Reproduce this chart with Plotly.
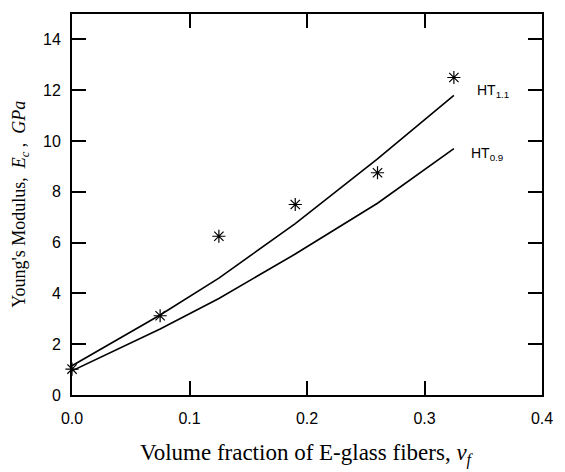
import plotly.graph_objects as go

vf = [0.0, 0.075, 0.125, 0.19, 0.26, 0.325]
E_exp = [1.02, 3.12, 6.25, 7.5, 8.75, 12.5]
HT_11 = [1.15, 3.15, 4.6, 6.75, 9.3, 11.8]
HT_09 = [0.95, 2.6, 3.8, 5.55, 7.55, 9.7]

x_ticks = [0.0, 0.1, 0.2, 0.3, 0.4]
y_ticks = [0, 2, 4, 6, 8, 10, 12, 14]

fig = go.Figure()
fig.add_trace(go.Scatter(x=vf, y=HT_11, mode="lines", line=dict(color="black", width=1.6),
                         showlegend=False, cliponaxis=False))
fig.add_trace(go.Scatter(x=vf, y=HT_09, mode="lines", line=dict(color="black", width=1.6),
                         showlegend=False, cliponaxis=False))
fig.add_trace(go.Scatter(x=vf, y=E_exp, mode="markers",
                         marker=dict(symbol="asterisk-open", size=11, color="black",
                                     line=dict(color="black", width=1.2)),
                         showlegend=False, cliponaxis=False))

fig.add_annotation(x=0.327, y=11.95, xref="x", yref="y", text="HT<sub>1.1</sub>",
                   showarrow=False, xanchor="left", yanchor="middle",
                   xshift=19, font=dict(family="Liberation Sans, Arial", size=14, color="black"))
fig.add_annotation(x=0.327, y=9.5, xref="x", yref="y", text="HT<sub>0.9</sub>",
                   showarrow=False, xanchor="left", yanchor="middle",
                   xshift=13, font=dict(family="Liberation Sans, Arial", size=14, color="black"))

fig.add_annotation(x=0.5, y=-0.157, xref="paper", yref="paper",
                   text="Volume fraction of E-glass fibers, <i>v</i><sub><i>f</i></sub>",
                   showarrow=False, xanchor="center", yanchor="middle",
                   font=dict(family="Liberation Serif, Times New Roman", size=23, color="black"))
fig.add_annotation(x=-0.11, y=0.5, xref="paper", yref="paper",
                   text="Young's Modulus,  <i>E</i><sub><i>c</i></sub> ,  <i>GPa</i>",
                   showarrow=False, xanchor="center", yanchor="middle", textangle=-90,
                   font=dict(family="Liberation Serif, Times New Roman", size=18, color="black"))

axis_common = dict(showline=True, linecolor="black", linewidth=1.8, mirror="ticks",
                   ticks="inside", ticklen=14, tickwidth=1.8, tickcolor="black",
                   showgrid=False, zeroline=False,
                   tickfont=dict(family="Liberation Sans, Arial", size=16, color="black"))

fig.update_xaxes(range=[0, 0.4], tickvals=x_ticks, ticktext=[f"{v:.1f}" for v in x_ticks],
                 ticklabelstandoff=8, **axis_common)
fig.update_yaxes(range=[0, 15], tickvals=y_ticks, ticktext=[str(v) for v in y_ticks],
                 ticklabelstandoff=6, **axis_common)

fig.update_layout(width=565, height=472, margin=dict(l=72, r=12, t=12, b=77),
                  paper_bgcolor="white", plot_bgcolor="white")

fig.write_html("out.html")
